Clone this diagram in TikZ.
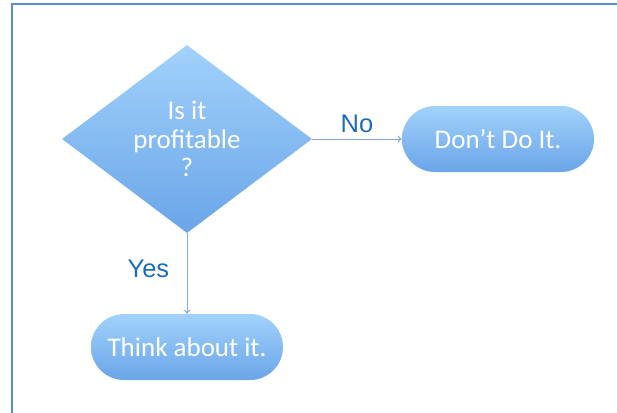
\documentclass[tikz,border=0pt]{standalone}
\usepackage{fontspec}
\setmainfont{Carlito}
\newfontfamily\labelfont{Liberation Sans}
\usetikzlibrary{shapes.geometric,arrows.meta}
\definecolor{frameblue}{HTML}{5B8ED0}
\definecolor{boxtop}{HTML}{A2D2FC}
\definecolor{boxbottom}{HTML}{6AA5E8}
\definecolor{linkblue}{HTML}{86AAD6}
\definecolor{labelblue}{HTML}{1C6DB8}
\tikzset{
  decision/.style={diamond,top color=boxtop,bottom color=boxbottom,draw=none,
    minimum width=250pt,minimum height=188pt,inner sep=0pt,text=white,
    align=center,font=\fontsize{27}{28.5}\selectfont},
  outcome/.style={rectangle,rounded corners=33pt,top color=boxtop,bottom color=boxbottom,
    draw=none,minimum width=192pt,minimum height=66pt,text=white,
    font=\fontsize{27}{28.5}\selectfont},
  link/.style={draw=linkblue,line width=1pt,-{To[length=4pt,width=7pt]}},
  answer/.style={text=labelblue,font=\labelfont\fontsize{25.5}{28}\selectfont}
}
\begin{document}
\begin{tikzpicture}[x=1pt,y=-1pt]
  \useasboundingbox (0,0) rectangle (617,412);
  \clip (0,0) rectangle (617,412);
  \draw[frameblue,line width=2pt] (11.5,430) -- (11.5,4.5) -- (640,4.5);

  \node[decision] (profit) at (187,139) {Is it\\profitable\\?};
  \node[outcome] (dont) at (498,139) {Don’t Do It.};
  \node[outcome] (think) at (187,347) {Think about it.};

  \draw[link] (profit.east) -- (dont.west)
    node[answer,midway,above=2pt] (no) {No};
  \draw[link] (profit.south) -- (think.north)
    node[answer,pos=0.44,left=14pt] (yes) {Yes};
\end{tikzpicture}
\end{document}
